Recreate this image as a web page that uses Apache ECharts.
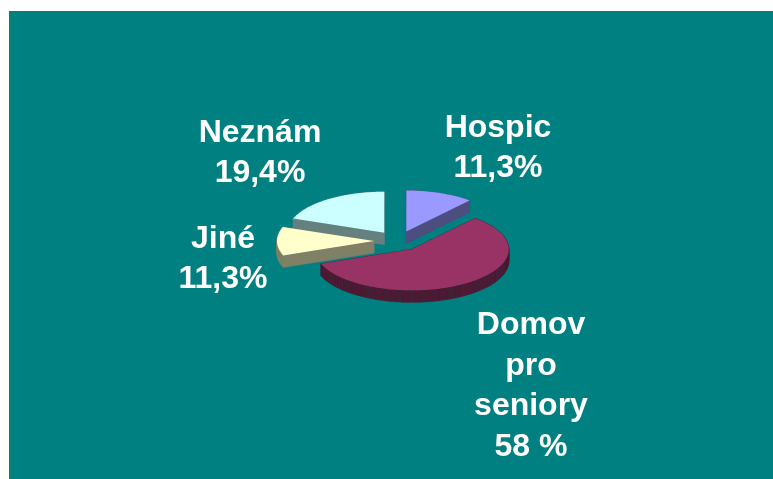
<!DOCTYPE html>
<html><head><meta charset="utf-8">
<style>html,body{margin:0;padding:0;background:#fff}#c{width:773px;height:479px}</style>
<script src="https://cdn.jsdelivr.net/npm/echarts@6/dist/echarts.min.js"></script>
</head><body><div id="c"></div>
<script>
const categories = ['Hospic', 'Domov pro seniory', 'Jiné', 'Neznám'];
const values = [11.3, 58, 11.3, 19.4];
const labelTexts = ['Hospic\n11,3%', 'Domov\npro\nseniory\n58 %', 'Jiné\n11,3%', 'Neznám\n19,4%'];
const topColors = ['#9999FF', '#993366', '#FFFFCC', '#CCFFFF'];
const sideColors = ['#4D4D80', '#4D1A33', '#808066', '#668080'];
const labelCentres = [[498, 148], [531, 386], [223, 259], [260, 153]];

const cx = 398, cy = 241, rx = 97, ry = 41, depth = 12, explode = 24;
const total = values.reduce((a, b) => a + b, 0);
const starts = []; let acc = 0;
values.forEach(v => { starts.push(acc); acc += v; });

const chart = echarts.init(document.getElementById('c'), null, {renderer: 'canvas'});
function renderItem(params, api) {
  const i = params.dataIndex;
  const v = api.value(1);
  const a0 = starts[i] / total * 2 * Math.PI, a1 = a0 + v / total * 2 * Math.PI, mid = (a0 + a1) / 2;
  const ax = cx + explode * Math.sin(mid), ay = cy - explode * (ry / rx) * Math.cos(mid);
  const n = Math.max(4, Math.ceil((a1 - a0) * 40));
  const pts = [[ax, ay]];
  for (let k = 0; k <= n; k++) {
    const t = a0 + (a1 - a0) * k / n;
    pts.push([ax + rx * Math.sin(t), ay - ry * Math.cos(t)]);
  }
  const children = [];
  const z = Math.round(ay) * 10;
  for (let k = 0; k < pts.length; k++) {
    const p = pts[k], q = pts[(k + 1) % pts.length];
    children.push({type: 'polygon', z2: z,
      shape: {points: [p, q, [q[0], q[1] + depth], [p[0], p[1] + depth]]},
      style: {fill: sideColors[i], stroke: sideColors[i], lineWidth: 0.5}});
  }
  children.push({type: 'polygon', z2: z + 1, shape: {points: pts}, style: {fill: topColors[i]}});
  children.push({type: 'text', z2: 9999,
    style: {text: labelTexts[i], x: labelCentres[i][0], y: labelCentres[i][1],
      align: 'center', verticalAlign: 'middle', fill: '#fff',
      font: 'bold 32px "Liberation Sans", Arial, sans-serif', lineHeight: 40.5}});
  return {type: 'group', children};
}
chart.setOption({
  animation: false,
  backgroundColor: '#fff',
  graphic: [{type: 'rect', z: -1, shape: {x: 9, y: 11, width: 764, height: 468}, style: {fill: '#008080'}}],
  series: [{type: 'custom', coordinateSystem: 'none', renderItem,
    encode: {itemName: 0, value: 1},
    data: categories.map((c, i) => [c, values[i]])}]
});
</script></body></html>
